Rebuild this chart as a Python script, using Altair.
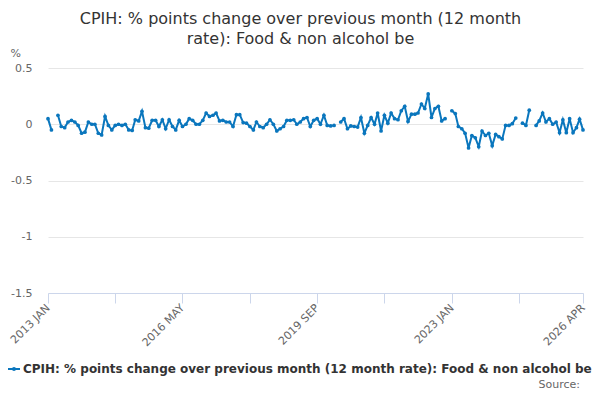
import altair as alt
import pandas as pd

title_lines = ["CPIH: % points change over previous month (12 month", "rate): Food & non alcohol be"]
series_name = "CPIH: % points change over previous month (12 month rate): Food & non alcohol be"
source_text = "Source:"
start_month = "2013-01-01"

values = [
    0.05, -0.05, None, 0.08, -0.02, -0.03, 0.02, 0.035, 0.02, -0.01,
    -0.08, -0.07, 0.02, 0.0, 0.0, -0.08, -0.095, 0.07, -0.01, -0.05,
    -0.01, 0.0, -0.01, 0.0, -0.05, -0.055, 0.04, 0.03, 0.115, -0.03,
    -0.035, 0.035, 0.035, -0.02, 0.04, -0.04, 0.04, -0.02, -0.05, 0.035,
    -0.02, 0.0, 0.05, 0.035, 0.0, 0.0, 0.035, 0.1, 0.07, 0.08,
    0.1, 0.03, 0.035, 0.02, 0.02, -0.02, 0.085, 0.085, 0.015, 0.01,
    -0.02, -0.05, 0.02, -0.02, -0.03, 0.0, 0.04, 0.0, -0.06, -0.04,
    -0.02, 0.035, 0.035, 0.04, 0.0, 0.02, 0.05, 0.06, -0.02, 0.035,
    0.05, 0.0, 0.08, -0.01, -0.015, -0.01, None, 0.02, 0.05, -0.04,
    -0.015, -0.02, -0.025, 0.06, -0.08, -0.01, 0.06, 0.0, 0.1, -0.06,
    0.08, 0.01, 0.1, 0.05, 0.04, 0.12, 0.16, 0.025, 0.09, 0.09,
    0.1, 0.18, 0.14, 0.27, 0.06, 0.14, 0.16, 0.03, 0.05, None,
    0.12, 0.095, -0.02, -0.04, -0.08, -0.21, -0.1, -0.12, -0.2, -0.06,
    -0.1, -0.08, -0.19, -0.09, -0.11, -0.13, -0.01, -0.01, 0.005, 0.055,
    None, 0.01, -0.01, 0.125, None, -0.01, 0.03, 0.1, 0.02, 0.05,
    0.0, 0.02, -0.075, 0.04, -0.075, 0.05, -0.075, -0.03, 0.045, -0.05,
]

y_ticks = [-1.5, -1, -0.5, 0, 0.5]
x_tick_months = list(range(0, 160, 10)) + [159]
label_months = [0, 40, 80, 120, 159]

LINE = "#0a76bd"
months = pd.date_range(start_month, periods=len(values), freq="MS")
df = pd.DataFrame({"month": months.strftime("%Y-%m-%d"), "value": values})

tick_vals = [alt.DateTime(year=int(d.year), month=int(d.month), date=1, utc=True)
             for d in months[x_tick_months]]
label_list = "[" + ",".join(str(m) for m in label_months) + "]"
label_expr = (f"indexof({label_list}, (utcyear(datum.value)-2013)*12 + utcmonth(datum.value)) >= 0"
              " ? upper(utcFormat(datum.value, '%Y %b')) : ''")

x_enc = alt.X("month:T", scale=alt.Scale(type="utc", domain=[alt.DateTime(year=2013, month=1, date=1, utc=True),
                                                            alt.DateTime(year=2026, month=4, date=1, utc=True)]),
              axis=alt.Axis(values=tick_vals, labelExpr=label_expr, title=None, grid=False,
                            domainColor="#ccd6eb", tickColor="#ccd6eb", tickSize=10,
                            labelAngle=-45, labelAlign="right", labelBaseline="middle",
                            labelPadding=3, labelFontSize=11, labelColor="#666666",
                            labelFont="DejaVu Sans", labelOverlap=False, labelFlush=False))
y_enc = alt.Y("value:Q", scale=alt.Scale(domain=[-1.5, 0.5], nice=False, zero=False),
              axis=alt.Axis(values=y_ticks, labelExpr="'' + datum.value", title="%",
                            titleAngle=0, titleX=-38, titleY=-12, titleAlign="left",
                            titleBaseline="alphabetic", titleFontSize=11, titleFontWeight="normal",
                            titleColor="#666666", titleFont="DejaVu Sans",
                            domain=False, ticks=False, labelPadding=16, labelFontSize=11,
                            labelColor="#666666", labelFont="DejaVu Sans",
                            gridColor="#e6e6e6", gridWidth=1))

base = alt.Chart(df)
line = base.mark_line(color=LINE, strokeWidth=2, invalid="break-paths-filter-domains").encode(x=x_enc, y=y_enc)
pts = base.mark_point(filled=True, color=LINE, size=14, opacity=1).encode(x="month:T", y="value:Q")

one = pd.DataFrame({"t": [series_name]})
leg_rule = alt.Chart(one).mark_rule(color=LINE, strokeWidth=2).encode(
    x=alt.value(-40), x2=alt.value(-28), y=alt.value(301))
leg_pt = alt.Chart(one).mark_point(filled=True, color=LINE, size=16, opacity=1).encode(
    x=alt.value(-34), y=alt.value(301))
leg_txt = alt.Chart(one).mark_text(align="left", baseline="middle", font="DejaVu Sans",
                                   fontSize=12, fontWeight="bold", color="#333333").encode(
    x=alt.value(-25), y=alt.value(301), text="t:N")
src = alt.Chart(pd.DataFrame({"t": [source_text]})).mark_text(
    align="right", baseline="middle", font="DejaVu Sans", fontSize=11, color="#666666").encode(
    x=alt.value(532), y=alt.value(317), text="t:N")

chart = alt.layer(line, pts, leg_rule, leg_pt, leg_txt, src).properties(
    width=535, height=225,
    padding={"left": 40, "top": 60, "right": 9, "bottom": 98},
    autosize="none",
    title=alt.TitleParams(text=title_lines, fontSize=16, font="DejaVu Sans", fontWeight="normal",
                          color="#333333", anchor="middle", frame="group", dx=-15, offset=0,
                          lineHeight=20),
).configure_view(stroke=None)

chart.save("out.html", embed_options={"renderer": "svg", "actions": False})
